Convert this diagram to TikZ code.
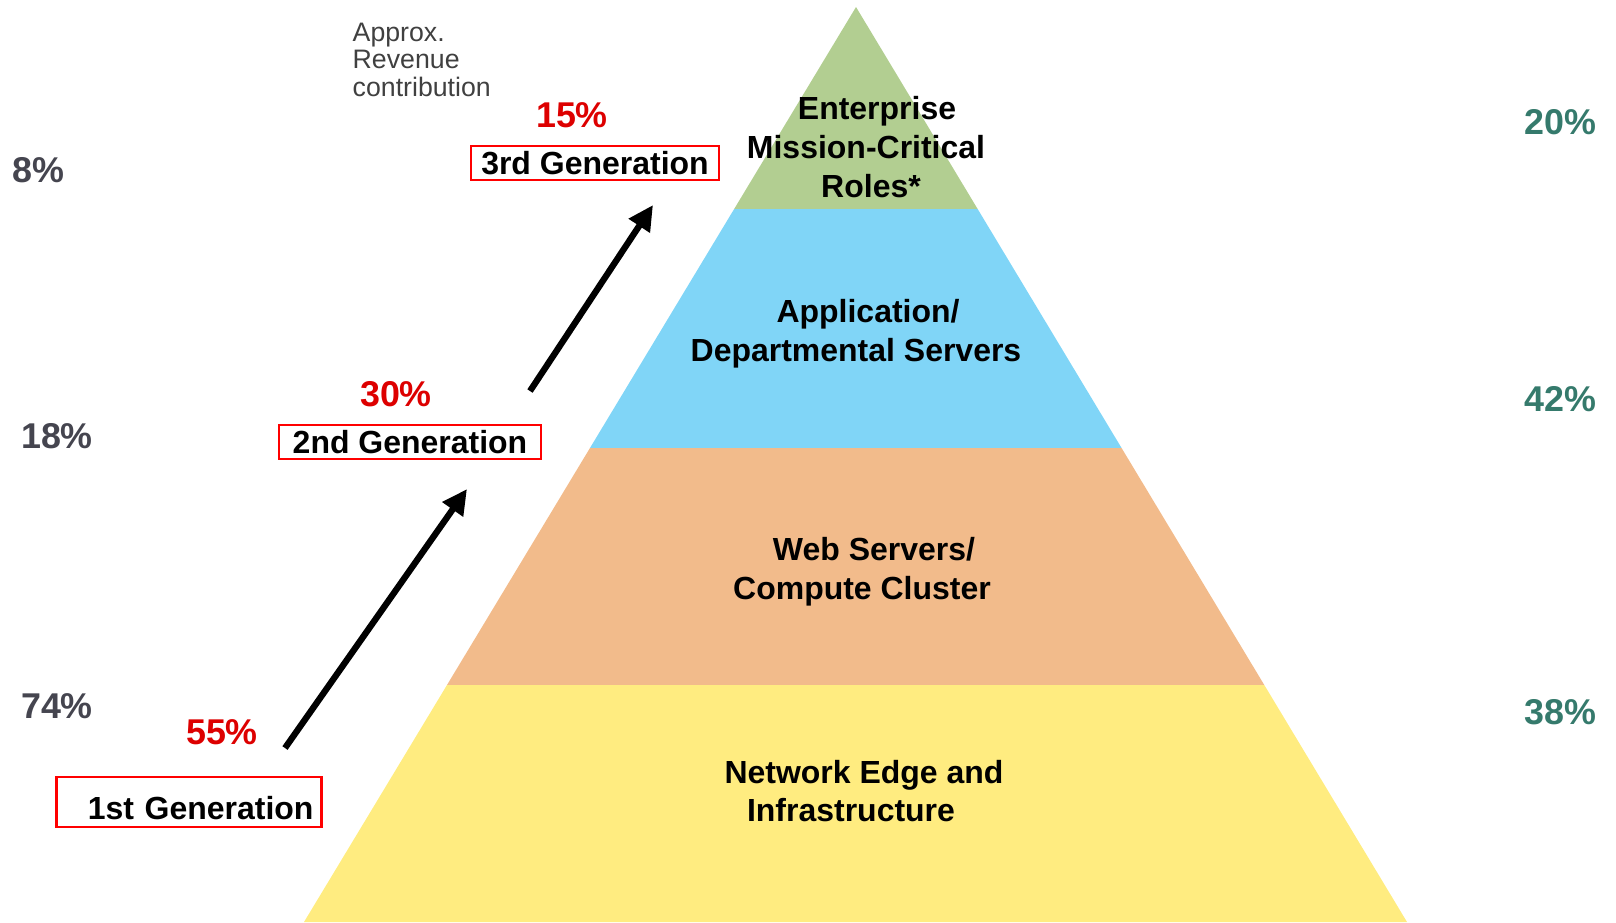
\documentclass[tikz,border=0pt]{standalone}
\usepackage{fontspec}
\setmainfont{Liberation Sans}
\usetikzlibrary{calc,arrows.meta}
\definecolor{topgreen}{HTML}{B2CE91}
\definecolor{appblue}{HTML}{80D5F7}
\definecolor{weborange}{HTML}{F2BB8B}
\definecolor{edgeyellow}{HTML}{FFEC80}
\definecolor{pctred}{HTML}{DD0000}
\definecolor{boxred}{HTML}{FF0000}
\definecolor{pctteal}{HTML}{357A6C}
\definecolor{pctgray}{HTML}{45454F}
\definecolor{notegray}{HTML}{404040}

\begin{document}
\begin{tikzpicture}[x=0.1mm,y=-0.1mm,
	layer/.style={font=\fontsize{9.1}{11}\selectfont\bfseries, align=center},
	genbox/.style={draw=boxred, line width=0.6pt, font=\fontsize{9.1}{11}\selectfont\bfseries, inner ysep=0pt, minimum height=3.4mm},
	redpct/.style={text=pctred, font=\fontsize{10.2}{12}\selectfont\bfseries},
	sidepct/.style={font=\fontsize{10.2}{12}\selectfont\bfseries},
	growarrow/.style={line width=1.8pt, -{Triangle[length=2.5mm,width=2.4mm]}}]
					\useasboundingbox (0,0) rectangle (1616,922);
					
					%PYRAMIDE
					\coordinate (T) at (856,7);
					\coordinate (BL) at (304,922);
					\coordinate (BR) at (1407,922);
					\coordinate (L1) at ($(T)!0.2208!(BL)$);
					\coordinate (R1) at ($(T)!0.2208!(BR)$);
					\coordinate (L2) at ($(T)!0.482!(BL)$);
					\coordinate (R2) at ($(T)!0.482!(BR)$);
					\coordinate (L3) at ($(T)!0.741!(BL)$);
					\coordinate (R3) at ($(T)!0.741!(BR)$);
					\fill[topgreen] (T) -- (R1) -- (L1) -- cycle;
					\fill[appblue] (L1) -- (R1) -- (R2) -- (L2) -- cycle;
					\fill[weborange] (L2) -- (R2) -- (R3) -- (L3) -- cycle;
					\fill[edgeyellow] (L3) -- (R3) -- (BR) -- (BL) -- cycle;
					
					%COUCHES
					\node[layer] (ent) at (871,147) {\hspace*{1.2mm}Enterprise\\\hspace*{-1mm}Mission-Critical\\Roles*};
					\node[layer] (app) at (862,334) {\hspace*{1.2mm}Application/\\\hspace*{-1.2mm}Departmental Servers};
					\node[layer] (web) at (868,572) {\hspace*{1.2mm}Web Servers/\\\hspace*{-1.2mm}Compute Cluster};
					\node[layer] (net) at (857,791) {\hspace*{1.4mm}Network Edge and\\\hspace*{-1.2mm}Infrastructure};
					
					%GENERATIONS
					\node[genbox, inner xsep=1mm] (g3) at (595,163) {3rd Generation};
					\node[genbox, inner xsep=1.4mm] (g2) at (410,442) {2nd Generation};
					\node[genbox, minimum height=5mm, inner xsep=0.8mm, text width=24.9mm, text height=3.4mm, text depth=0mm, align=right] (g1) at (189,802) {1st Generation};
					\node[redpct] (p3) at (572,115) {15\%};
					\node[redpct] (p2) at (396,394) {30\%};
					\node[redpct] (p1) at (222,732) {55\%};
					\coordinate (a1s) at (285,748);
					\coordinate (a1e) at (467,489);
					\coordinate (a2s) at (530,391);
					\coordinate (a2e) at (653,205);
					\draw[growarrow] (a1s) -- (a1e);
					\draw[growarrow] (a2s) -- (a2e);
					
					%REVENU
					\node[anchor=north west, text=notegray, align=left, inner sep=0pt, font=\fontsize{7.6}{7.9}\selectfont] (rev) at (352,22) {Approx.\\Revenue\\contribution};
					\node[sidepct, text=pctgray] (l3) at (38,170) {8\%};
					\node[sidepct, text=pctgray] (l2) at (57,436) {18\%};
					\node[sidepct, text=pctgray] (l1) at (57,706) {74\%};
					\node[sidepct, text=pctteal] (r3) at (1560,122) {20\%};
					\node[sidepct, text=pctteal] (r2) at (1560,399) {42\%};
					\node[sidepct, text=pctteal] (r1) at (1560,712) {38\%};
					
				  \end{tikzpicture}
\end{document}
